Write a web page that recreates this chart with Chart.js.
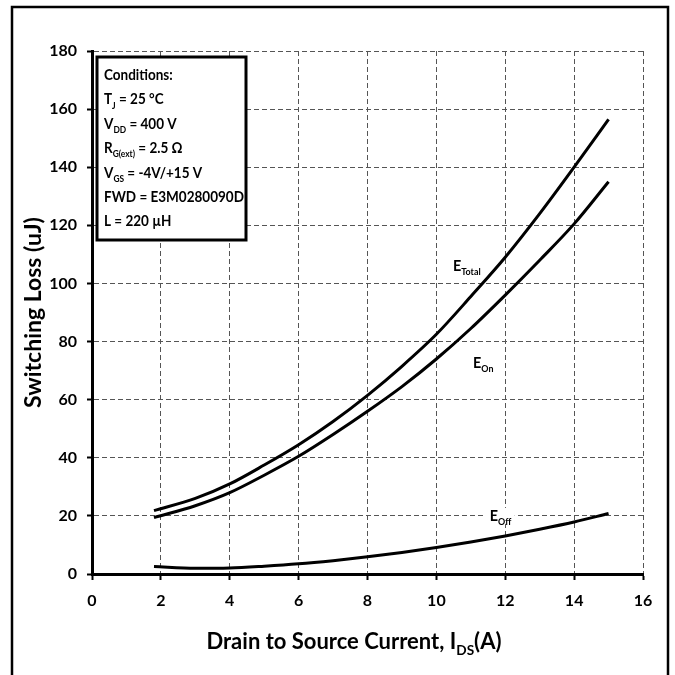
<!DOCTYPE html>
<html>
<head>
<meta charset="utf-8">
<script src="https://cdn.jsdelivr.net/npm/chart.js@4.4.0/dist/chart.umd.min.js"></script>
<style>
  html, body { margin: 0; padding: 0; background: #fff; }
  canvas { display: block; }
</style>
</head>
<body>
<canvas id="lossChart" width="675" height="675"></canvas>
<script>
// drain current (A) and switching energies (uJ)
const currentA = [1.8, 3, 4, 5, 6, 7, 8, 9, 10, 11, 12, 13, 14, 15];
const eTotal = [21.8, 26, 31, 37.5, 44.5, 52.5, 61.5, 71.5, 82.5, 95.5, 109, 124, 140, 156.5];
const eOn = [19.4, 23.5, 28, 34, 40.5, 48, 56, 64.5, 74, 84.5, 96, 108, 120.5, 135];
const eOff = [2.6, 2.0, 2.1, 2.7, 3.5, 4.6, 5.9, 7.4, 9.1, 11.0, 13.1, 15.4, 17.9, 20.8];

const xTicks = [0, 2, 4, 6, 8, 10, 12, 14, 16];
const yTicks = [0, 20, 40, 60, 80, 100, 120, 140, 160, 180];

// test conditions box, [text, isSubscript]
const conditions = [
  [['Conditions:']],
  [['T'], ['J', true], [' = 25 °C']],
  [['V'], ['DD', true], [' = 400 V']],
  [['R'], ['G(ext)', true], [' = 2.5 Ω']],
  [['V'], ['GS', true], [' = -4V/+15 V']],
  [['FWD = E3M0280090D']],
  [['L = 220 µH']]
];

const FONT = 'Lato, "Open Sans", sans-serif';

function toPoints(ys) {
  return currentA.map((x, i) => ({ x: x, y: ys[i] }));
}

// text made of normal and subscript pieces
function richWidth(ctx, parts, size) {
  let w = 0;
  parts.forEach(p => {
    ctx.font = 'bold ' + (p[1] ? size * 0.62 : size) + 'px ' + FONT;
    w += ctx.measureText(p[0]).width;
  });
  return w;
}
function drawRich(ctx, parts, x, y, size, align, squeeze) {
  squeeze = squeeze || 1;
  if (align === 'center') x -= richWidth(ctx, parts, size) * squeeze / 2;
  ctx.save();
  ctx.translate(x, y);
  ctx.scale(squeeze, 1);
  ctx.textAlign = 'left';
  ctx.textBaseline = 'alphabetic';
  let cx = 0;
  parts.forEach(p => {
    const s = p[1] ? size * 0.62 : size;
    ctx.font = 'bold ' + s + 'px ' + FONT;
    ctx.fillText(p[0], cx, p[1] ? size * 0.28 : 0);
    cx += ctx.measureText(p[0]).width;
  });
  ctx.restore();
}

const decorations = {
  id: 'decorations',
  beforeDraw(chart) {
    const ctx = chart.ctx;
    ctx.save();
    ctx.fillStyle = '#fff';
    ctx.fillRect(0, 0, chart.width, chart.height);
    ctx.strokeStyle = '#000';
    ctx.lineWidth = 2.5;
    ctx.strokeRect(12, 7, 656, 680);
    ctx.restore();
  },
  afterDraw(chart) {
    const ctx = chart.ctx;
    const area = chart.chartArea;
    ctx.save();

    // conditions box
    ctx.fillStyle = '#fff';
    ctx.fillRect(97, 57, 149, 183);
    ctx.strokeStyle = '#000';
    ctx.lineWidth = 3;
    ctx.strokeRect(97, 57, 149, 183);
    ctx.fillStyle = '#000';
    conditions.forEach((line, i) => {
      drawRich(ctx, line, 104, 80 + i * 24.4, 15, 'left', 0.9);
    });

    // curve names
    const xs = chart.scales.x, ys = chart.scales.y;
    drawRich(ctx, [['E'], ['Total', true]], 453, 271, 16, 'left', 0.9);
    drawRich(ctx, [['E'], ['On', true]], 473, 368, 16, 'left', 0.9);
    const offX = xs.getPixelForValue(11.55), offY = ys.getPixelForValue(20);
    ctx.fillStyle = '#fff';
    ctx.fillRect(offX - 5, offY - 8, 30, 16);
    ctx.fillStyle = '#000';
    drawRich(ctx, [['E'], ['Off', true]], offX, offY + 5, 16, 'left', 0.9);

    // axis titles
    drawRich(ctx, [['Drain to Source Current, I'], ['DS', true], ['(A)']],
      354, 649, 22, 'center');
    ctx.translate(34, (area.top + area.bottom) / 2);
    ctx.rotate(-Math.PI / 2);
    ctx.font = 'bold 23px ' + FONT;
    ctx.textAlign = 'center';
    ctx.textBaseline = 'middle';
    ctx.fillText('Switching Loss (uJ)', 0, 0);
    ctx.restore();
  }
};

const lineStyle = {
  borderColor: '#000',
  borderWidth: 3,
  pointRadius: 0,
  showLine: true,
  fill: false,
  cubicInterpolationMode: 'monotone'
};

const tickFont = { family: FONT, size: 16, weight: 'bold' };

new Chart(document.getElementById('lossChart'), {
  type: 'scatter',
  data: {
    datasets: [
      Object.assign({ label: 'ETotal', data: toPoints(eTotal) }, lineStyle),
      Object.assign({ label: 'EOn', data: toPoints(eOn) }, lineStyle),
      Object.assign({ label: 'EOff', data: toPoints(eOff) }, lineStyle)
    ]
  },
  options: {
    responsive: false,
    animation: false,
    events: [],
    layout: { padding: { left: 0, top: 51, right: 32, bottom: 0 } },
    plugins: { legend: { display: false }, tooltip: { enabled: false } },
    scales: {
      x: {
        type: 'linear',
        min: 0,
        max: 16,
        afterBuildTicks: s => { s.ticks = xTicks.map(v => ({ value: v })); },
        afterFit: s => { s.height = 101; },
        ticks: { color: '#000', font: tickFont, padding: 11 },
        grid: { color: '#555', lineWidth: 1, tickLength: 6, tickColor: '#000', tickWidth: 2 },
        border: { color: '#000', width: 3, dash: [5, 3] }
      },
      y: {
        type: 'linear',
        min: 0,
        max: 180,
        afterBuildTicks: s => { s.ticks = yTicks.map(v => ({ value: v })); },
        afterFit: s => { s.width = 92; },
        ticks: { color: '#000', font: tickFont, padding: 10 },
        grid: { color: '#555', lineWidth: 1, tickLength: 5, tickColor: '#000', tickWidth: 2 },
        border: { color: '#000', width: 3, dash: [5, 3] }
      }
    }
  },
  plugins: [decorations]
});
</script>
</body>
</html>
